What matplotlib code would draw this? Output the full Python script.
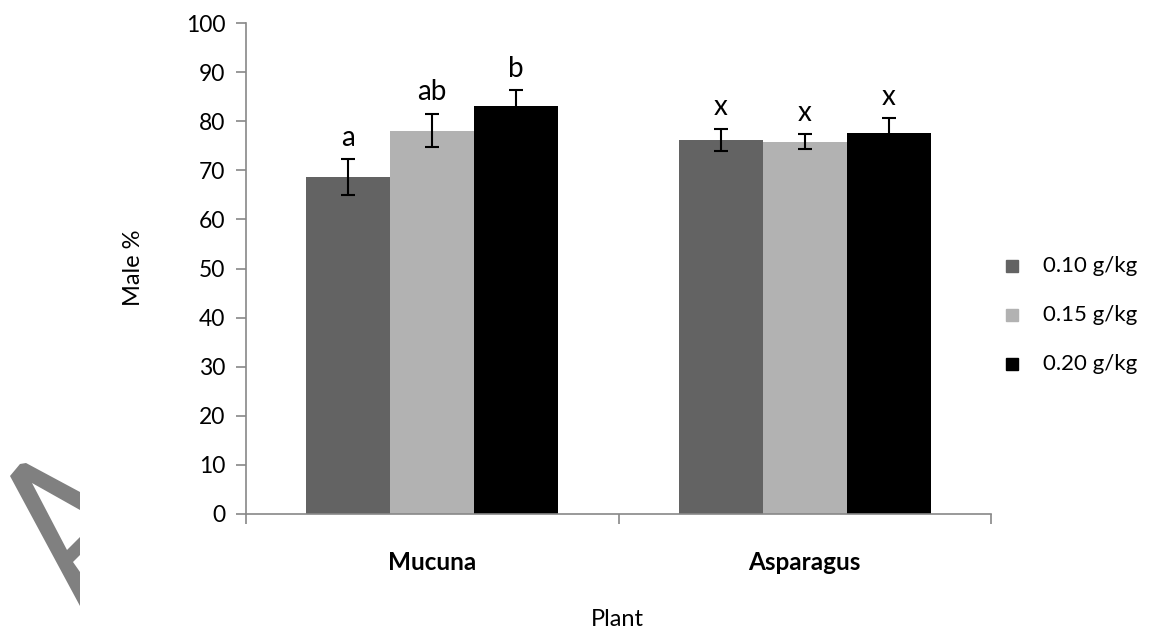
import matplotlib
matplotlib.use("Agg")
import matplotlib.pyplot as plt
from matplotlib.patches import Polygon, Rectangle
import numpy as np

plt.rcParams['font.family'] = ['Lato', 'DejaVu Sans']

categories = ["Mucuna", "Asparagus"]
doses = ["0.10 g/kg", "0.15 g/kg", "0.20 g/kg"]
values = {
    "0.10 g/kg": [68.6, 76.2],
    "0.15 g/kg": [78.1, 75.8],
    "0.20 g/kg": [83.0, 77.6],
}
errors = {
    "0.10 g/kg": [3.6, 2.2],
    "0.15 g/kg": [3.4, 1.5],
    "0.20 g/kg": [3.3, 3.0],
}
letters = {
    "0.10 g/kg": ["a", "x"],
    "0.15 g/kg": ["ab", "x"],
    "0.20 g/kg": ["b", "x"],
}
colors = ["#636363", "#b2b2b2", "#000000"]

W, H = 1160, 630
fig = plt.figure(figsize=(W / 100, H / 100), dpi=100)
ax = fig.add_axes([246 / W, 1 - 514 / H, (991 - 246) / W, (514 - 23) / H])

x = np.arange(len(categories))
bw = 0.2255
for i, d in enumerate(doses):
    pos = x + (i - 1) * bw
    ax.bar(pos, values[d], width=bw, color=colors[i], zorder=2)
    ax.errorbar(pos, values[d], yerr=errors[d], fmt='none', ecolor='black',
                elinewidth=1.5, capsize=5, capthick=1.5, zorder=3)
    for p, v, e, lab in zip(pos, values[d], errors[d], letters[d]):
        ax.text(p, v + e + 2.8, lab, ha='center', va='baseline', fontsize=20)

ax.set_xlim(-0.5, 1.5)
ax.set_ylim(0, 100)
ax.set_yticks(np.arange(0, 101, 10))
ax.set_xticks([-0.5, 0.5, 1.5])
ax.set_xticklabels([])
ax.tick_params(axis='y', direction='out', length=7, width=1.2, color='#888888',
               labelsize=16.5, pad=8)
ax.tick_params(axis='x', direction='out', length=7, width=1.2, color='#888888')
for s in ['top', 'right']:
    ax.spines[s].set_visible(False)
for s in ['left', 'bottom']:
    ax.spines[s].set_color('#888888')
    ax.spines[s].set_linewidth(1.2)

for xi, c in zip(x, categories):
    ax.text(xi, -9.8, c, ha='center', va='center', fontsize=17.5, fontweight='bold',
            transform=ax.transData, clip_on=False)

fig.text(617 / W, 1 - 620 / H, "Plant", ha='center', va='center', fontsize=17)
fig.text(133 / W, 1 - 268 / H, "Male %", ha='center', va='center', fontsize=17,
         rotation=90)

# legend
for i, d in enumerate(doses):
    yc = 266 + 49 * i
    fig.add_artist(Rectangle((1006 / W, 1 - (yc + 6) / H), 12 / W, 12 / H,
                             transform=fig.transFigure, color=colors[i]))
    fig.text(1043 / W, 1 - yc / H, d, ha='left', va='center', fontsize=16)

# watermark fragment
pts = [(10, 476), (20, 464), (26, 463), (80, 492), (80, 510), (32, 483),
       (67, 550), (80, 537), (80, 555), (73, 562), (80, 572), (80, 606)]
fig.add_artist(Polygon([(px / W, 1 - py / H) for px, py in pts], closed=True,
                       transform=fig.transFigure, color='#808080', lw=0))

fig.savefig("out.png", dpi=100)
